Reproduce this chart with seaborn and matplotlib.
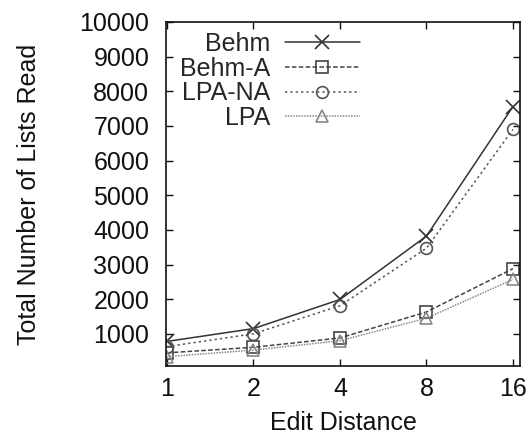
import numpy as np
import pandas as pd
import matplotlib
matplotlib.use("Agg")
import matplotlib.pyplot as plt
import seaborn as sns
from matplotlib.ticker import FixedLocator, FixedFormatter

# Data
edit_distance = [1, 2, 4, 8, 16]
behm = [780, 1150, 1990, 3820, 7560]
behm_a = [450, 610, 880, 1630, 2880]
lpa_na = [630, 1000, 1810, 3470, 6900]
lpa = [340, 530, 800, 1450, 2570]

methods = ["Behm", "Behm-A", "LPA-NA", "LPA"]
series = [behm, behm_a, lpa_na, lpa]
markers = ["x", "s", "o", "^"]
dashes = ["-", (0, (3, 1.5)), (0, (1.5, 2)), (0, (1, 0.8))]
colors = ["#333333", "#444444", "#555555", "#888888"]

rows = []
for m, vals in zip(methods, series):
    for d, v in zip(edit_distance, vals):
        rows.append({"dist": d, "lists": v, "method": m})
df = pd.DataFrame(rows)

sns.set_style("ticks")
plt.rcParams["font.family"] = ["Liberation Sans", "DejaVu Sans"]

fig = plt.figure(figsize=(5.32, 4.45), dpi=100)
ax = fig.add_axes([0.312, 0.1775, 0.6654, 0.7731])

for m, mk, ls, c in zip(methods, markers, dashes, colors):
    sub = df[df["method"] == m]
    sns.lineplot(data=sub, x="dist", y="lists", ax=ax, label=m, color=c,
                 linestyle=ls, marker=mk, markersize=9.5 if mk == "x" else 8.5,
                 markerfacecolor="none", markeredgecolor=c, markeredgewidth=1.2,
                 linewidth=1.1, legend=False)

ax.set_xscale("log", base=2)
ax.set_xlim(2 ** -0.0116, 2 ** 4.081)
ax.set_ylim(70, 10000)
ax.xaxis.set_major_locator(FixedLocator(edit_distance))
ax.xaxis.set_major_formatter(FixedFormatter([str(d) for d in edit_distance]))
ax.xaxis.set_minor_locator(FixedLocator([]))
ax.set_yticks(range(1000, 10001, 1000))

ax.tick_params(direction="in", top=True, right=True, length=5, width=1,
               labelsize=18, colors="#111111")
ax.tick_params(axis="x", pad=8)
ax.tick_params(axis="y", pad=12)
for s in ax.spines.values():
    s.set_linewidth(1.2)
    s.set_color("#111111")

ax.set_xlabel("Edit Distance", fontsize=18, labelpad=7, color="#111111")
ax.set_ylabel("Total Number of Lists Read", fontsize=18, labelpad=28,
              color="#111111")

handles, labels = ax.get_legend_handles_labels()
leg = ax.legend(handles, labels, loc="upper left", bbox_to_anchor=(0.01, 1.0),
                frameon=False, markerfirst=False, fontsize=18,
                handlelength=3.0, handletextpad=0.6, labelspacing=0.03,
                borderaxespad=0.2, borderpad=0.2)

fig.savefig("out.png", dpi=100)
